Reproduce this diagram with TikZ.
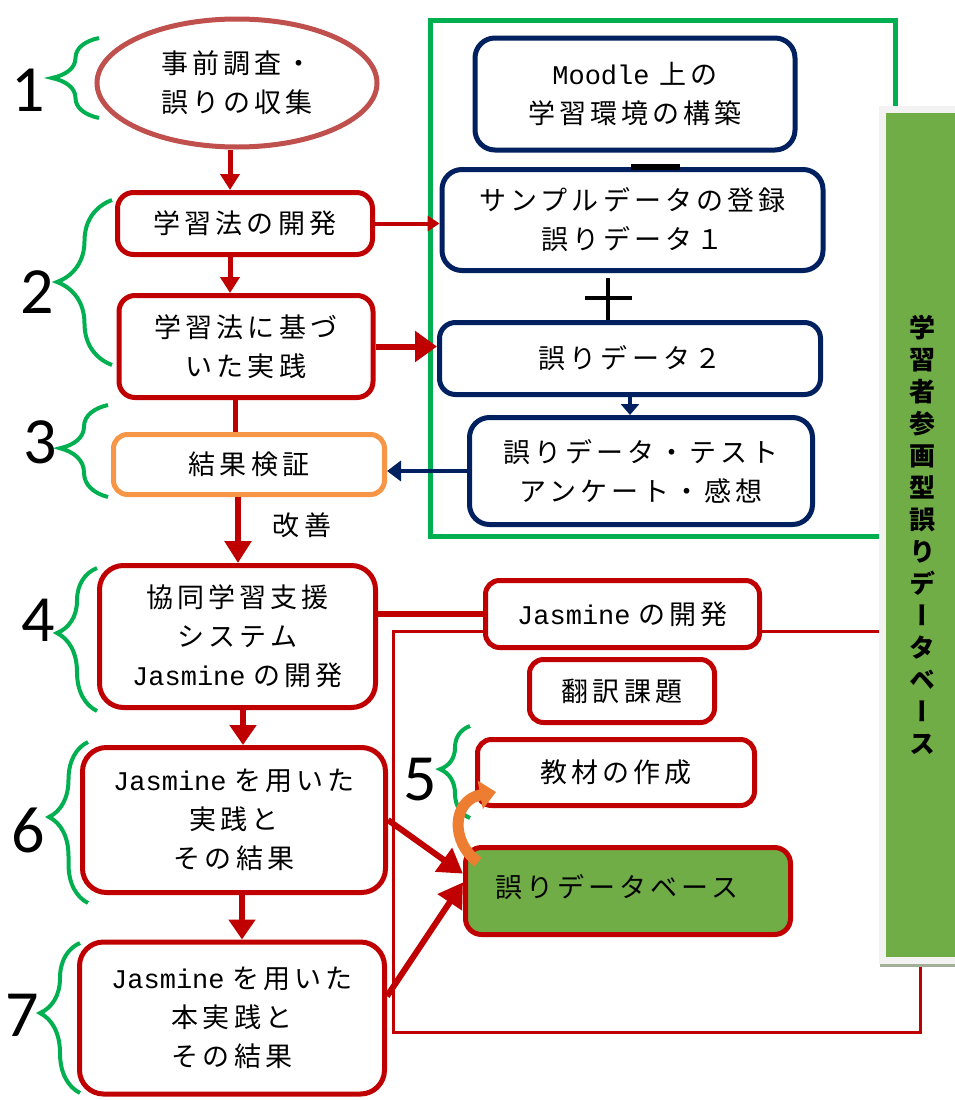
\documentclass[tikz,border=0pt]{standalone}
\usepackage{fontspec}
\usetikzlibrary{arrows.meta,decorations.pathreplacing,backgrounds,shapes.geometric}
\newfontfamily\jp{Noto Sans CJK JP}[LetterSpace=15]
\newfontfamily\jpv{Noto Sans CJK JP}[RawFeature=+vert]
\newfontfamily\mono{Liberation Mono}
\newfontfamily\numf{Carlito}
\newcommand\jpt{\jp\fontsize{27}{39}\selectfont}
\newcommand\Jas{{\mono Jasmine}\hspace{8pt}}
\definecolor{cred}{HTML}{C00000}
\definecolor{cell}{HTML}{C0504D}
\definecolor{cblue}{HTML}{002060}
\definecolor{corg}{HTML}{F79646}
\definecolor{cgrn}{HTML}{00B050}
\definecolor{cbar}{HTML}{70AD47}
\definecolor{carr}{HTML}{ED7D31}
\definecolor{cbord}{HTML}{F2F2F2}
\begin{document}
\begin{tikzpicture}[x=1pt,y=-1pt,
  redbox/.style={draw=cred, line width=5pt, rounded corners=16pt, fill=white, inner sep=0pt, align=center, font=\jpt},
  bluebox/.style={redbox, draw=cblue},
  orgbox/.style={redbox, draw=corg},
  ellbox/.style={ellipse, draw=cell, line width=5pt, fill=white, inner sep=0pt, align=center, font=\jpt},
  gbrace/.style={draw=cgrn, line width=4pt, decorate},
  numlbl/.style={font=\numf\fontsize{66}{66}\selectfont, inner sep=0pt},
  redline/.style={draw=cred, line width=5pt},
  bluearrow/.style={draw=cblue, line width=4pt, -{Triangle[width=20pt,length=14pt]}},
]
\useasboundingbox (0,0) rectangle (955,1100);

% ---- left column ----
\node[ellbox, minimum width=280pt, minimum height=128pt] (ell) at (237,83) {事前調査・\\誤りの収集};
\node[redbox, minimum width=255pt, minimum height=62pt] (dev) at (245,223.5) {学習法の開発};
\node[redbox, minimum width=254pt, minimum height=102pt] (prac) at (246,346.5) {学習法に基づ\\いた実践};
\node[orgbox, rounded corners=14pt, minimum width=271pt, minimum height=60pt] (verify) at (249,464.5) {結果検証};
\node[redbox, rounded corners=24pt, minimum width=276pt, minimum height=142pt] (coop) at (237.5,636.5) {協同学習支援\\システム\\\Jas の開発};
\node[redbox, rounded corners=24pt, minimum width=303pt, minimum height=145pt] (p6) at (234,820) {\Jas を用いた\\実践と\\その結果};
\node[redbox, rounded corners=24pt, minimum width=305pt, minimum height=152pt] (p7) at (232,1018) {\Jas を用いた\\本実践と\\その結果};
\node[font=\jpt, inner sep=0pt] (kaizen) at (302,525) {改善};

% ---- green frame and right column ----
\node[bluebox, rounded corners=20pt, minimum width=320pt, minimum height=112pt] (moodle) at (635,94) {{\mono Moodle}\hspace{10pt}上の\\学習環境の構築};
\node[bluebox, rounded corners=20pt, minimum width=381pt, minimum height=101pt] (sample) at (632.5,220) {サンプルデータの登録\\誤りデータ１};
\node[bluebox, rounded corners=16pt, minimum width=381pt, minimum height=72pt] (e2) at (630,358.5) {誤りデータ２};
\node[bluebox, rounded corners=20pt, minimum width=343pt, minimum height=107pt] (bottom) at (641,471) {誤りデータ・テスト\\アンケート・感想};
\fill[black] (631,164) rectangle (680,170);
\draw[black, line width=4pt] (585,298) -- (632,298) (608,278) -- (608,320);

% ---- lower right ----
\coordinate (lpA) at (393,631);
\coordinate (lpB) at (393,1032);
\coordinate (lpC) at (920,1032);
\fill[color={rgb,255:red,163;green,174;blue,151}] (880,960) rectangle (965,967);
\node[draw=cbord, fill=cbar, line width=7pt, minimum width=81pt, minimum height=851pt, inner sep=0pt, align=center,
  font=\jpv\bfseries\fontsize{26}{32}\selectfont] (bar) at (922.5,534.5)
  {学\\習\\者\\参\\画\\型\\誤\\り\\デ\\ー\\タ\\ベ\\ー\\ス};
\begin{pgfonlayer}{background}
\fill[white] (0,0) rectangle (955,1100);
\draw[cgrn, line width=5pt] (430,20) rectangle (895,536);
\draw[cred, line width=3pt] (bar.west |- lpA) -- (lpA) -- (lpB) -- (lpC) -- (lpC |- bar.south);
\end{pgfonlayer}
\node[redbox, rounded corners=14pt, minimum width=274pt, minimum height=67pt] (jdev) at (622.5,614) {\Jas の開発};
\node[redbox, rounded corners=14pt, minimum width=185pt, minimum height=63pt] (trans) at (622,691) {翻訳課題};
\node[redbox, rounded corners=14pt, minimum width=277pt, minimum height=66pt] (mat) at (616,772.5) {教材の作成};
\node[redbox, fill=cbar, rounded corners=16pt, minimum width=325pt, minimum height=87pt] (db) at (628,891) {\raisebox{10pt}{誤りデータベース}\hspace{22pt}};

% ---- braces and numbers ----
\draw[gbrace, decoration={brace, amplitude=47pt, aspect=0.5}] (99,118) -- (99,38);
\draw[gbrace, decoration={brace, amplitude=55pt, aspect=0.503}] (112,365) -- (112,200);
\draw[gbrace, decoration={brace, amplitude=48pt, aspect=0.53}] (108,497) -- (108,405);
\draw[gbrace, decoration={brace, amplitude=40pt, aspect=0.545}] (97,711) -- (97,568);
\draw[gbrace, decoration={brace, amplitude=30pt, aspect=0.53}] (470,818) -- (470,726);
\draw[gbrace, decoration={brace, amplitude=39pt, aspect=0.534}] (88,903) -- (88,742);
\draw[gbrace, decoration={brace, amplitude=40pt, aspect=0.533}] (80,1093) -- (80,943);
\node[numlbl] (n1) at (28,90) {1};
\node[numlbl] (n2) at (37,292) {2};
\node[numlbl] (n3) at (40,442) {3};
\node[numlbl] (n4) at (38,620) {4};
\node[numlbl] (n5) at (420,780) {5};
\node[numlbl] (n6) at (28,830) {6};
\node[numlbl] (n7) at (22,1015) {7};

% ---- connectors ----
\coordinate (a1) at (230,0);
\coordinate (a3) at (235,0);
\coordinate (a4) at (238,0);
\coordinate (a5) at (243,0);
\coordinate (a6) at (242,0);
\coordinate (b1) at (630,0);
\draw[redline, -{Triangle[width=19pt,length=16pt]}] (ell.south -| a1) -- (dev.north -| a1);
\draw[redline, -{Triangle[width=19pt,length=16pt]}] (dev.south -| a1) -- (prac.north -| a1);
\draw[redline] (prac.south -| a3) -- (verify.north -| a3);
\draw[redline, line width=6pt, -{Triangle[width=26pt,length=22pt]}] (verify.south -| a4) -- (coop.north -| a4);
\draw[redline, line width=6pt, -{Triangle[width=26pt,length=20pt]}] (coop.south -| a5) -- (p6.north -| a5);
\draw[redline, line width=6pt, -{Triangle[width=26pt,length=20pt]}] (p6.south -| a6) -- (p7.north -| a6);
\draw[redline, line width=4pt, -{Triangle[width=15pt,length=12pt]}] (dev.east) -- (dev.east -| sample.west);
\draw[redline, line width=6pt, -{Triangle[width=30pt,length=22pt]}] (prac.east) -- (prac.east -| e2.west);
\draw[bluearrow, line width=4pt, -{Triangle[width=18pt,length=11pt]}] (e2.south -| b1) -- (bottom.north -| b1);
\draw[bluearrow] (bottom.west) -- (bottom.west -| verify.east);
\draw[redline, line width=6pt] (jdev.west -| coop.east) -- (jdev.west);
\draw[redline, line width=6pt, -{Triangle[width=28pt,length=24pt]}] (p6.east) -- (db.174);
\draw[redline, line width=6pt, -{Triangle[width=28pt,length=24pt]}] (p7.8) -- (db.177);

% ---- orange curved arrow ----
\coordinate (oa) at (478,862);
\coordinate (ob) at (496,792);
\draw[carr, line width=11pt, -{Triangle[width=28pt,length=16pt]}] (oa) .. controls (450,842) and (452,800) .. (ob);
\end{tikzpicture}
\end{document}
